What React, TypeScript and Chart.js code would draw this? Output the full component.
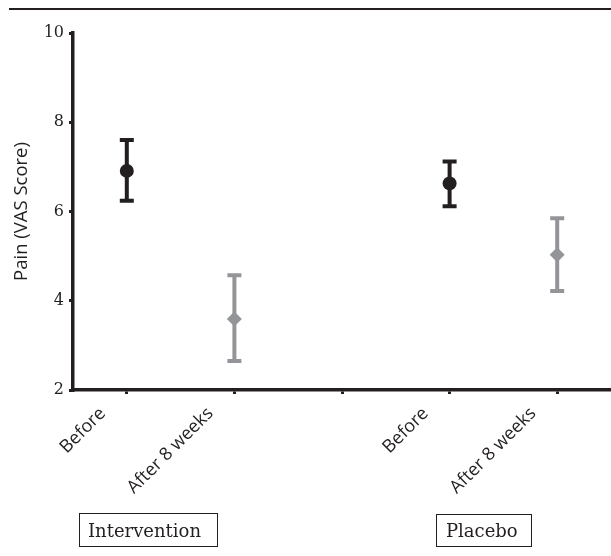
import React, { useEffect, useRef } from "react";
import { Chart, registerables } from "chart.js";
Chart.register(...registerables);

const categories = ["Before", "After 8 weeks", "", "Before", "After 8 weeks"];
const beforeMean = [6.91, null, null, 6.63, null];
const beforeUpper = [7.6, null, null, 7.12, null];
const beforeLower = [6.24, null, null, 6.12, null];
const afterMean = [null, 3.59, null, null, 5.03];
const afterUpper = [null, 4.57, null, null, 5.85];
const afterLower = [null, 2.65, null, null, 4.22];
const yMin = 2;
const yMax = 10;
const yStep = 2;
const groupLabels = ["Intervention", "Placebo"];
const yTitle = "Pain (VAS Score)";

const DARK = "#231f20";
const GREY = "#939598";

const errorBarPlugin = {
  id: "errorBars",
  beforeDatasetsDraw(chart: any) {
    const ctx = chart.ctx;
    const y = chart.scales.y;
    chart.data.datasets.forEach((ds: any, i: number) => {
      const meta = chart.getDatasetMeta(i);
      ds.data.forEach((v: any, j: number) => {
        if (v == null) return;
        const x = meta.data[j].x;
        const yt = y.getPixelForValue(ds.errUpper[j]);
        const yb = y.getPixelForValue(ds.errLower[j]);
        ctx.save();
        ctx.strokeStyle = ds.borderColor;
        ctx.lineWidth = 4;
        ctx.lineCap = "butt";
        ctx.beginPath();
        ctx.moveTo(x, yt);
        ctx.lineTo(x, yb);
        ctx.moveTo(x - 7, yt);
        ctx.lineTo(x + 7, yt);
        ctx.moveTo(x - 7, yb);
        ctx.lineTo(x + 7, yb);
        ctx.stroke();
        ctx.restore();
      });
    });
  },
};

export default function App() {
  const ref = useRef<HTMLCanvasElement>(null);
  useEffect(() => {
    document.body.style.margin = "0";
    const chart = new Chart(ref.current!, {
      type: "line",
      data: {
        labels: categories,
        datasets: [
          {
            label: "Before",
            data: beforeMean,
            errUpper: beforeUpper,
            errLower: beforeLower,
            showLine: false,
            borderColor: DARK,
            backgroundColor: DARK,
            pointStyle: "circle",
            pointRadius: 7,
            pointBorderWidth: 0,
          } as any,
          {
            label: "After 8 weeks",
            data: afterMean,
            errUpper: afterUpper,
            errLower: afterLower,
            showLine: false,
            borderColor: GREY,
            backgroundColor: GREY,
            pointStyle: "rectRot",
            pointRadius: 7.5,
            pointBorderWidth: 0,
          } as any,
        ],
      },
      options: {
        animation: false,
        responsive: false,
        layout: { autoPadding: false, padding: { top: 33, left: 0, right: 0, bottom: 0 } },
        plugins: { legend: { display: false }, tooltip: { enabled: false } },
        scales: {
          x: {
            type: "category",
            offset: true,
            afterFit: (s: any) => {
              s.height = 166;
              s.paddingLeft = 0;
              s.paddingRight = 0;
            },
            grid: { drawOnChartArea: false, drawTicks: true, tickLength: 4, lineWidth: 3, color: DARK },
            border: { display: true, width: 3.5, color: DARK },
            ticks: {
              autoSkip: false,
              minRotation: 45,
              maxRotation: 45,
              labelOffset: -24,
              padding: 9,
              color: DARK,
              font: { family: "'Open Sans', sans-serif", size: 18 },
            },
          },
          y: {
            min: yMin,
            max: yMax,
            afterFit: (s: any) => {
              s.width = 73;
            },
            grid: { drawOnChartArea: false, drawTicks: true, tickLength: 4, lineWidth: 3, color: DARK },
            border: { display: true, width: 3.5, color: DARK },
            ticks: {
              stepSize: yStep,
              padding: 5,
              color: DARK,
              font: { family: "'DejaVu Serif', serif", size: 16 },
            },
            title: {
              display: true,
              text: yTitle,
              color: DARK,
              padding: { top: 11, bottom: 0 },
              font: { family: "'Open Sans', sans-serif", size: 18.5 },
            },
          },
        },
      },
      plugins: [errorBarPlugin],
    } as any);
    return () => chart.destroy();
  }, []);

  const boxStyle: React.CSSProperties = {
    position: "absolute",
    border: `1.5px solid ${DARK}`,
    boxSizing: "border-box",
    fontFamily: "'DejaVu Serif', serif",
    fontSize: 18,
    color: DARK,
    display: "flex",
    alignItems: "center",
    whiteSpace: "nowrap",
  };

  return (
    <div style={{ position: "relative", width: 611, height: 556, background: "#fff" }}>
      <div style={{ position: "absolute", left: 9, right: 0, top: 8, height: 2, background: DARK }} />
      <canvas ref={ref} width={611} height={556} style={{ position: "absolute", left: 0, top: 0 }} />
      <div style={{ ...boxStyle, left: 79, top: 513, width: 139, height: 34, paddingLeft: 8 }}>{groupLabels[0]}</div>
      <div style={{ ...boxStyle, left: 436, top: 514, width: 96, height: 33, paddingLeft: 9 }}>{groupLabels[1]}</div>
    </div>
  );
}
